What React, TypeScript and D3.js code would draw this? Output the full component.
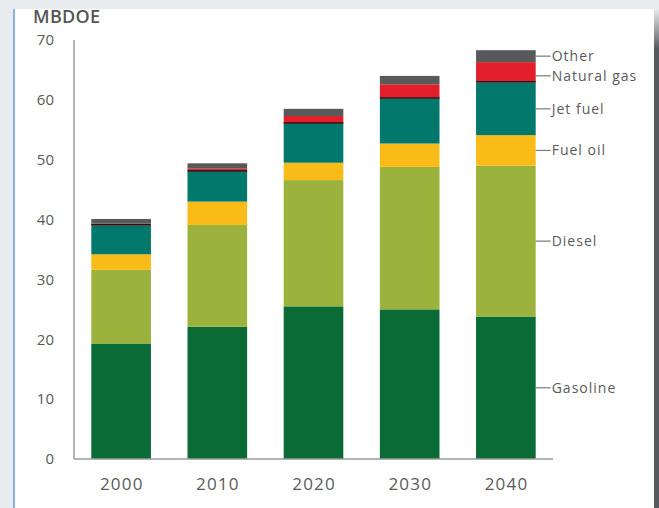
import React from "react";
import * as d3 from "d3";

const years = ["2000", "2010", "2020", "2030", "2040"];
const seriesNames = ["Gasoline", "Diesel", "Fuel oil", "Jet fuel", "Natural gas", "Other"];
const gasoline = [19.3, 22.1, 25.5, 25.0, 23.8];
const diesel = [12.3, 17.0, 21.1, 23.8, 25.2];
const fuelOil = [2.6, 3.9, 2.9, 3.9, 5.1];
const jetFuel = [4.8, 5.0, 6.5, 7.5, 8.8];
const naturalGas = [0.3, 0.5, 1.3, 2.4, 3.4];
const other = [0.8, 0.9, 1.2, 1.4, 2.0];
const yTicks = [0, 10, 20, 30, 40, 50, 60, 70];
const colors = ["#0a6b36", "#9bb23c", "#f8bb17", "#00796c", "#e21f2b", "#58595b"];

const W = 659;
const H = 508;

export default function App() {
  const rows = years.map((y, i) => ({
    year: y,
    Gasoline: gasoline[i],
    Diesel: diesel[i],
    "Fuel oil": fuelOil[i],
    "Jet fuel": jetFuel[i],
    "Natural gas": naturalGas[i],
    Other: other[i],
  }));
  const stack = d3.stack<any>().keys(seriesNames);
  const layers = stack(rows);

  const x = d3
    .scaleBand<string>()
    .domain(years)
    .range([74, 553])
    .paddingInner(0.38)
    .paddingOuter(0.18);
  const y = d3.scaleLinear().domain([0, 70]).range([459, 40]);

  const font = "'Open Sans', 'DejaVu Sans', sans-serif";
  const textColor = "#5a5a5a";
  const last = years[years.length - 1];
  const lastIdx = years.length - 1;
  const barRight = (x(last) as number) + x.bandwidth();

  return (
    <svg
      width={W}
      height={H}
      style={{ position: "absolute", left: 0, top: 0 }}
      fontFamily={font}
    >
      <defs>
        <linearGradient id="edge" x1="0" y1="0" x2="0" y2="1">
          <stop offset="0" stopColor="#e9ecee" />
          <stop offset="0.08" stopColor="#555a5e" />
          <stop offset="1" stopColor="#555a5e" />
        </linearGradient>
      </defs>
      <rect x={0} y={0} width={W} height={H} fill="#e9ecee" />
      <rect x={14} y={9} width={640} height={H - 9} fill="#ffffff" />
      <rect x={13} y={9} width={2} height={H - 9} fill="#8fb0dc" />
      <rect x={654} y={9} width={5} height={H - 9} fill="url(#edge)" />

      <text x={33} y={23} fontSize={18} fill="#555" fontWeight={600} letterSpacing={0.3}>
        MBDOE
      </text>

      {yTicks.map((t) => (
        <text
          key={t}
          x={54}
          y={y(t)}
          dy="0.35em"
          textAnchor="end"
          fontSize={15}
          fill={textColor}
        >
          {t}
        </text>
      ))}

      {layers.map((layer, li) => (
        <g key={layer.key} fill={colors[li]}>
          {layer.map((d, i) => (
            <rect
              key={i}
              x={x(years[i])}
              y={y(d[1])}
              width={x.bandwidth()}
              height={y(d[0]) - y(d[1])}
            />
          ))}
        </g>
      ))}

      {/* dark separator at top of jet fuel */}
      {layers[3].map((d, i) => (
        <line
          key={i}
          x1={x(years[i])}
          x2={(x(years[i]) as number) + x.bandwidth()}
          y1={y(d[1]) - 0.75}
          y2={y(d[1]) - 0.75}
          stroke="#1a1a1a"
          strokeWidth={1.5}
        />
      ))}

      <line x1={74} x2={74} y1={40} y2={459} stroke="#9a9a9a" strokeWidth={1.5} />
      <line x1={74} x2={553} y1={459} y2={459} stroke="#9a9a9a" strokeWidth={1.5} />

      {years.map((yr) => (
        <text
          key={yr}
          x={(x(yr) as number) + x.bandwidth() / 2 + 0.6}
          y={484}
          dy="0.35em"
          textAnchor="middle"
          fontSize={17}
          letterSpacing={1.2}
          fill={textColor}
        >
          {yr}
        </text>
      ))}

      {layers.map((layer, li) => {
        const d = layer[lastIdx];
        const mid = (y(d[0]) + y(d[1])) / 2;
        const offsets: Record<string, number> = { Other: 0, "Natural gas": 3.5 };
        const ly = mid + (offsets[layer.key] || 0);
        return (
          <g key={layer.key}>
            <line x1={barRight} x2={barRight + 15} y1={ly} y2={ly} stroke="#7a7a7a" strokeWidth={1.2} />
            <text x={barRight + 16} y={ly} dy="0.35em" fontSize={14} letterSpacing={1} fill={textColor}>
              {layer.key}
            </text>
          </g>
        );
      })}
    </svg>
  );
}
